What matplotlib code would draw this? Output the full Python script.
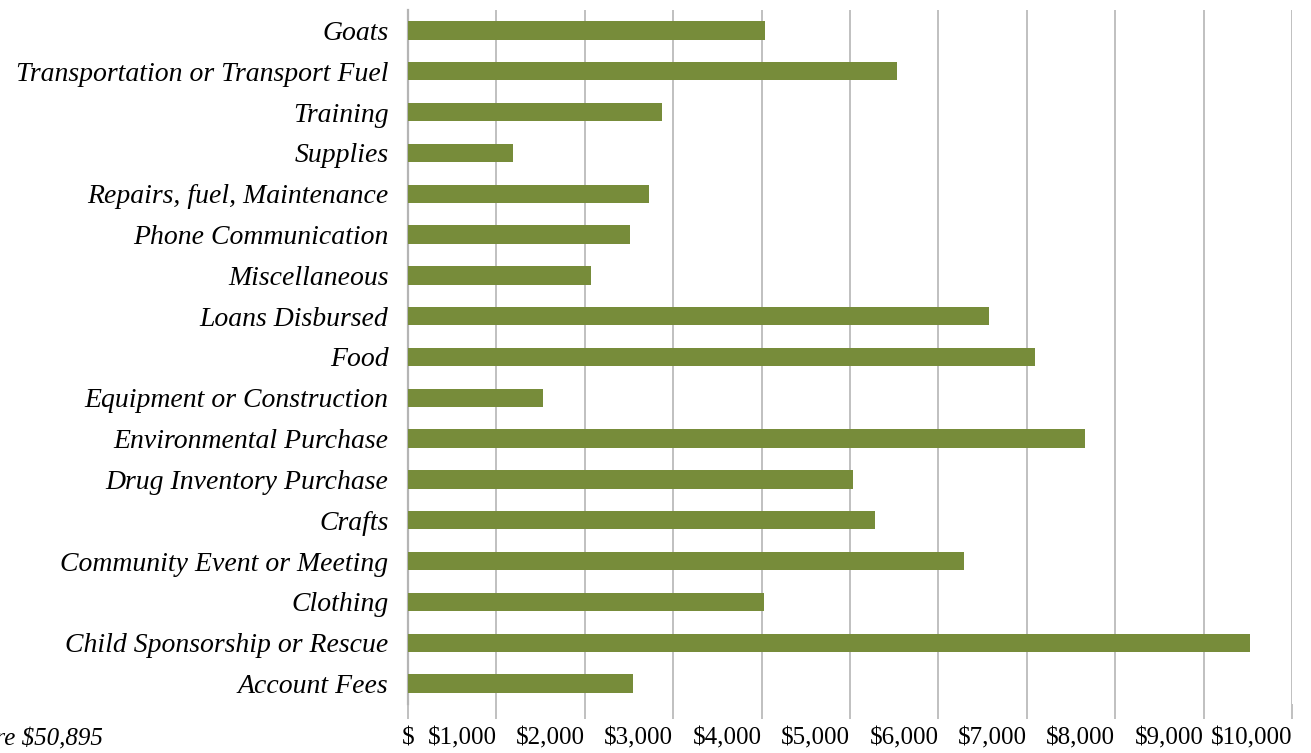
import matplotlib
matplotlib.use("Agg")
import matplotlib.pyplot as plt
from matplotlib.transforms import ScaledTranslation

# Expenditure by category (bottom to top as drawn)
categories = [
    "Account Fees",
    "Child Sponsorship or Rescue",
    "Clothing",
    "Community Event or Meeting",
    "Crafts",
    "Drug Inventory Purchase",
    "Environmental Purchase",
    "Equipment or Construction",
    "Food",
    "Loans Disbursed",
    "Miscellaneous",
    "Phone Communication",
    "Repairs, fuel, Maintenance",
    "Supplies",
    "Training",
    "Transportation or Transport Fuel",
    "Goats",
]
amounts = [2545, 9525, 4025, 6290, 5285, 5035, 7660, 1525, 7090, 6570,
           2070, 2510, 2725, 1190, 2870, 5530, 4035]
xticks = [0, 1000, 2000, 3000, 4000, 5000, 6000, 7000, 8000, 9000, 10000]
xtick_labels = ["$", "$1,000", "$2,000", "$3,000", "$4,000", "$5,000",
                "$6,000", "$7,000", "$8,000", "$9,000", "$10,000"]
total_label = "Total Expenditure $50,895"

bar_color = "#778C3A"
grid_color = "#B5B5B5"

fig = plt.figure(figsize=(13.11, 7.53), dpi=100)
ax = fig.add_axes([408 / 1311, 1 - 704 / 753, (1292 - 408) / 1311, (704 - 10) / 753])

y = range(len(categories))
ax.barh(y, amounts, height=0.45, color=bar_color, zorder=3)

ax.set_xlim(0, 10000)
ax.set_ylim(-0.5, len(categories) - 0.5)
ax.set_yticks(list(y))
ax.set_yticklabels(categories, family="Liberation Serif", style="italic", fontsize=20)
ax.set_xticks(xticks)
ax.set_xticklabels(xtick_labels, family="Liberation Serif", fontsize=18)

# accounting-style labels sit right-aligned just past each gridline
shift = ScaledTranslation(7 / 100, 0, fig.dpi_scale_trans)
for lab in ax.get_xticklabels()[1:]:
    lab.set_ha("right")
    lab.set_transform(lab.get_transform() + shift)

ax.grid(axis="x", color=grid_color, linewidth=1.2, zorder=0)
ax.tick_params(axis="y", length=0, pad=14)
ax.tick_params(axis="x", length=11, width=1.2, color=grid_color, pad=6)
for side in ["top", "right", "bottom"]:
    ax.spines[side].set_visible(False)
ax.spines["left"].set_color(grid_color)
ax.spines["left"].set_linewidth(1.6)

# total sits partly off the left edge, as in the original
fig.text(103 / 1311, 1 - 738 / 753, total_label, ha="right", va="center",
         family="Liberation Serif", style="italic", fontsize=18)

fig.savefig("out.png", dpi=100)
